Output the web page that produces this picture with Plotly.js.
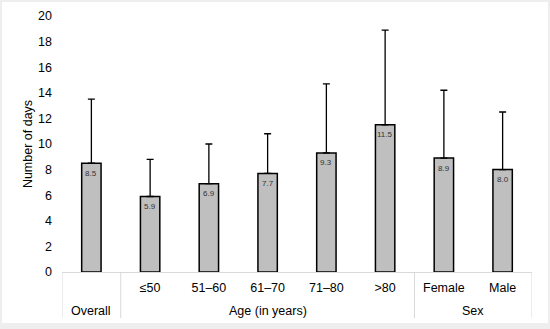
<!DOCTYPE html>
<html>
<head>
<meta charset="utf-8">
<script src="https://cdn.plot.ly/plotly-3.0.1.min.js"></script>
<style>
html, body { margin: 0; padding: 0; background: #eeeeee; width: 550px; height: 329px; overflow: hidden; }
#chart { position: absolute; left: 2px; top: 2px; width: 546px; height: 321px; background: #fff; }
</style>
</head>
<body>
<div id="chart"></div>
<script>
// Data
const categories = ['Overall', '≤50', '51–60', '61–70', '71–80', '>80', 'Female', 'Male'];
const tickLabels = ['', '≤50', '51–60', '61–70', '71–80', '>80', 'Female', 'Male'];
const groups = ['Overall', 'Age (in years)', 'Age (in years)', 'Age (in years)', 'Age (in years)', 'Age (in years)', 'Sex', 'Sex'];
const meanDays = [8.5, 5.9, 6.9, 7.7, 9.3, 11.5, 8.9, 8.0];
const sdDays = [5.0, 2.9, 3.1, 3.1, 5.4, 7.4, 5.3, 4.5];
const valueLabels = ['8.5', '5.9', '6.9', '7.7', '9.3', '11.5', '8.9', '8.0'];
const yTicks = [0, 2, 4, 6, 8, 10, 12, 14, 16, 18, 20];

const FONT = 'Liberation Sans, Arial, sans-serif';

const trace = {
  type: 'bar',
  x: categories,
  y: meanDays,
  width: 0.33,
  marker: { color: '#bfbfbf', line: { color: '#000', width: 1.5 } },
  error_y: {
    type: 'data', symmetric: false, array: sdDays, arrayminus: sdDays.map(() => 0),
    color: '#000', thickness: 1.3, width: 3.5
  },
  hoverinfo: 'none'
};

// Group spans from group array
const spans = [];
groups.forEach((g, i) => {
  if (spans.length && spans[spans.length - 1].name === g) spans[spans.length - 1].end = i;
  else spans.push({ name: g, start: i, end: i });
});

const shapes = [];
const bounds = new Set();
spans.forEach(s => { bounds.add(s.start - 0.5); bounds.add(s.end + 0.5); });
bounds.forEach(b => {
  shapes.push({ type: 'line', xref: 'x', yref: 'paper', x0: b, x1: b, y0: 0, y1: -0.18,
    line: { color: '#d9d9d9', width: 1 } });
});

const annotations = [];
spans.forEach(s => {
  annotations.push({ xref: 'x', yref: 'paper', x: (s.start + s.end) / 2, y: 0, yshift: -39,
    text: s.name, showarrow: false, font: { family: FONT, size: 12.5, color: '#000' }, yanchor: 'middle' });
});
meanDays.forEach((v, i) => {
  annotations.push({ xref: 'x', yref: 'y', x: categories[i], y: v, yshift: -10,
    text: valueLabels[i], showarrow: false, font: { family: FONT, size: 8, color: '#333' }, yanchor: 'middle' });
});

const layout = {
  width: 546, height: 321,
  margin: { l: 60, r: 16, t: 14, b: 51 },
  paper_bgcolor: '#fff', plot_bgcolor: '#fff',
  showlegend: false,
  font: { family: FONT, color: '#000' },
  bargap: 0,
  xaxis: {
    type: 'category',
    tickmode: 'array', tickvals: categories, ticktext: tickLabels,
    showline: true, linecolor: '#d9d9d9', linewidth: 1,
    ticks: '', showgrid: false, zeroline: false,
    tickfont: { family: FONT, size: 12.5, color: '#000' },
    ticklabelstandoff: 4,
    range: [-0.5, categories.length - 0.5],
    fixedrange: true
  },
  yaxis: {
    range: [0, 20], tickmode: 'array', tickvals: yTicks,
    showgrid: false, zeroline: false, showline: false, ticks: '',
    tickfont: { family: FONT, size: 12.5, color: '#000' },
    ticklabelstandoff: 9,
    title: { text: 'Number of days', font: { family: FONT, size: 12.5, color: '#000' }, standoff: 2 },
    fixedrange: true
  },
  shapes: shapes,
  annotations: annotations
};

Plotly.newPlot('chart', [trace], layout, { staticPlot: true, displayModeBar: false });
</script>
</body>
</html>
